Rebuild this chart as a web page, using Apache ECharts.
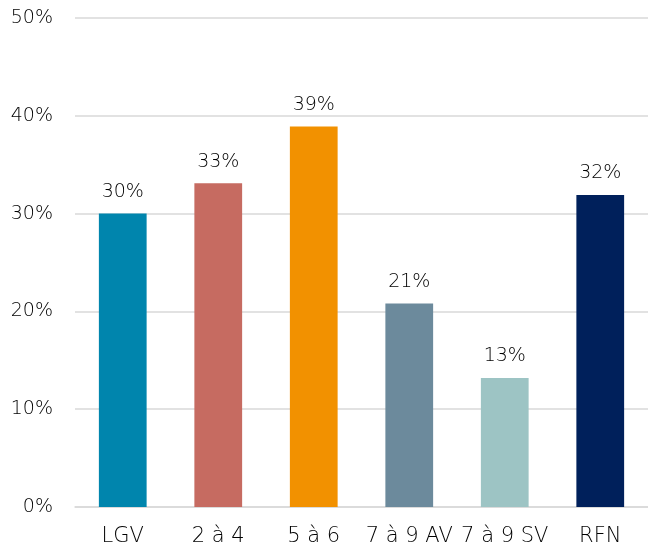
<!DOCTYPE html>
<html>
<head>
<meta charset="utf-8">
<script src="https://cdn.jsdelivr.net/npm/echarts@6/dist/echarts.min.js"></script>
<style>
  html, body { margin: 0; padding: 0; background: #fff; }
  #main { width: 648px; height: 549px; }
</style>
</head>
<body>
<div id="main"></div>
<script type="text/javascript">
    // données
    var categories = ['LGV', '2 à 4', '5 à 6', '7 à 9 AV', '7 à 9 SV', 'RFN'];
    var values = [30.0, 33.1, 38.9, 20.8, 13.2, 31.9];
    var colors = ['#0085AD', '#C66B61', '#F29100', '#6C8A9C', '#9DC4C4', '#00205B'];
    var yTicks = [0, 10, 20, 30, 40, 50];

    var font = '"DejaVu Sans", sans-serif';
    var myChart = echarts.init(document.getElementById('main'));
    myChart.setOption({
        animation: false,
        grid: { left: 75, top: 18, width: 579, height: 489, containLabel: false },
        xAxis: {
            type: 'category',
            data: categories,
            axisLine: { show: true, lineStyle: { color: '#d9d9d9', width: 1.5 } },
            axisTick: { show: false },
            axisLabel: { color: '#000', fontSize: 21, fontWeight: 200, fontFamily: font, margin: 19, interval: 0 }
        },
        yAxis: {
            type: 'value',
            min: yTicks[0],
            max: yTicks[yTicks.length - 1],
            interval: 10,
            axisLine: { show: false },
            axisTick: { show: false },
            splitLine: { lineStyle: { color: '#d9d9d9', width: 1.5 } },
            axisLabel: { color: '#000', fontSize: 19, fontWeight: 200, fontFamily: font, margin: 22,
                formatter: function (v) { return v + '%'; } }
        },
        series: [{
            type: 'bar',
            barWidth: '50%',
            data: values.map(function (v, i) {
                return { value: v, itemStyle: { color: colors[i] } };
            }),
            label: {
                show: true,
                position: 'top',
                distance: 12,
                color: '#000',
                fontSize: 19,
                fontWeight: 200,
                fontFamily: font,
                formatter: function (p) { return Math.round(p.value) + '%'; }
            }
        }]
    });
</script>
</body>
</html>
